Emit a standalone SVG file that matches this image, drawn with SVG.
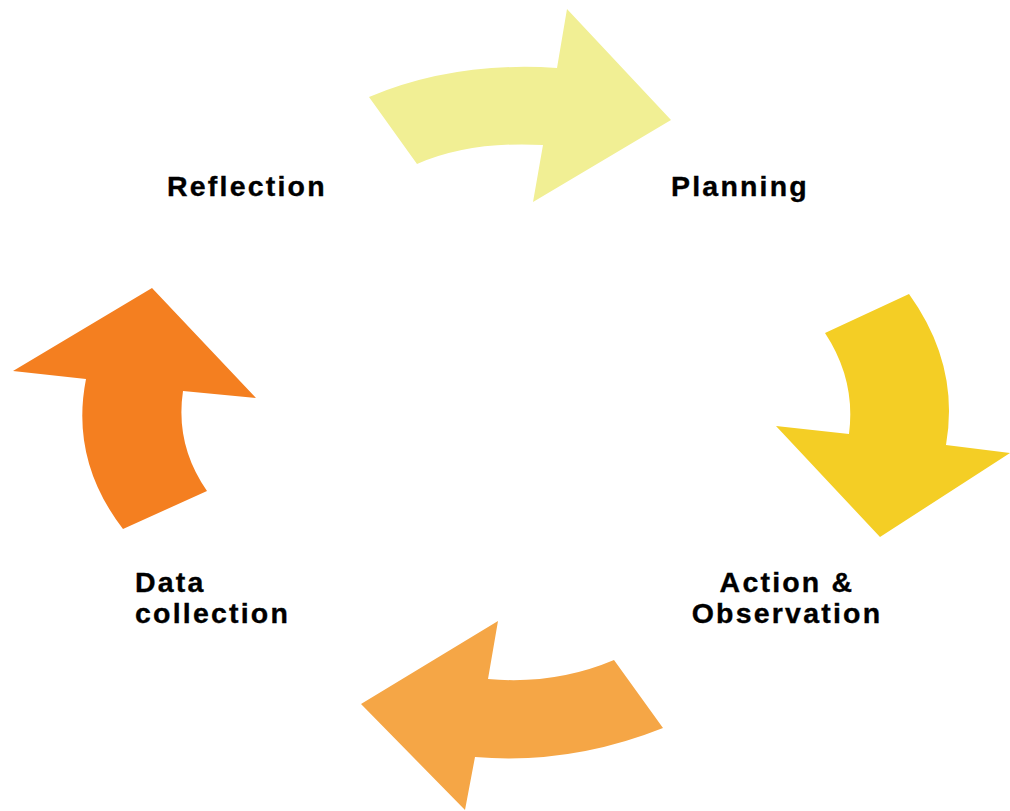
<svg xmlns="http://www.w3.org/2000/svg" width="1010" height="811" viewBox="0 0 1010 811">
<style>
.lbl{font-family:"Liberation Sans",Arial,Helvetica,sans-serif;font-weight:bold;font-size:28.5px;letter-spacing:2.2px;fill:#000;stroke:#000;stroke-width:0.35}
</style>
<rect width="1010" height="811" fill="#fff"/>
<g id="connectors">
<path id="arrow-reflection-planning" fill="#F1EF94" d="M369,97 L417,164 Q470,141 543,145 L533,202 L671,120 L567,9 L557,68 Q455,61 369,97 Z"/>
<path id="arrow-planning-action" fill="#F4CE25" d="M909,294 L825,333 Q856,380 849,434 L776,426 L880,537 L1010,453 L946,445 Q960,365 909,294 Z"/>
<path id="arrow-action-data" fill="#F5A646" d="M614,660 L663,728 Q570,765 475,757 L465,810 L361,704 L498,621 L488,679 Q555,685 614,660 Z"/>
<path id="arrow-data-reflection" fill="#F47F20" d="M123,529 L207,491 Q175,445 183,391 L256,398 L152,288 L13,371 L86,379 Q70,460 123,529 Z"/>
</g>
<g id="node-reflection"><text class="lbl" x="167" y="196">Reflection</text></g>
<g id="node-planning"><text class="lbl" x="671" y="196">Planning</text></g>
<g id="node-action"><text class="lbl" x="787" y="592" text-anchor="middle">Action &amp;</text><text class="lbl" x="787" y="623" text-anchor="middle">Observation</text></g>
<g id="node-data"><text class="lbl" x="135" y="592">Data</text><text class="lbl" x="135" y="623">collection</text></g>
</svg>
